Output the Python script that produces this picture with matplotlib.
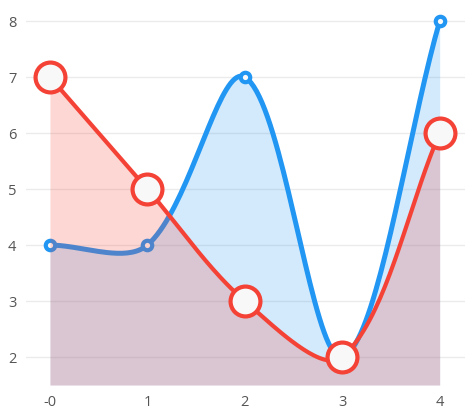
import numpy as np
import matplotlib
matplotlib.use("Agg")
import matplotlib.pyplot as plt

# ---------------- DATA ----------------
x_values = [0, 1, 2, 3, 4]
x_labels = ["-0", "1", "2", "3", "4"]
blue_values = [4, 4, 7, 2, 8]
red_values = [7, 5, 3, 2, 6]
y_ticks = [2, 3, 4, 5, 6, 7, 8]

BLUE = "#2196f3"
RED = "#f44336"

X_MIN, X_MAX = -0.246, 4.26
Y_MIN, Y_MAX = 1.5, 8.2
PX_X, PX_Y = 97.5, 56.0   # pixels per data unit, used for spline shape


# ---------------- SPLINE (chart.js style) ----------------
def spline(xs, ys, tension=0.33, steps=40):
    px = np.array(xs, float) * PX_X
    py = np.array(ys, float) * PX_Y
    n = len(px)
    ctrl_prev = []
    ctrl_next = []
    for i in range(n):
        prev_i = max(i - 1, 0)
        next_i = min(i + 1, n - 1)
        d01 = np.hypot(px[i] - px[prev_i], py[i] - py[prev_i])
        d12 = np.hypot(px[next_i] - px[i], py[next_i] - py[i])
        s01 = d01 / (d01 + d12)
        s12 = d12 / (d01 + d12)
        dx = px[next_i] - px[prev_i]
        dy = py[next_i] - py[prev_i]
        ctrl_prev.append((px[i] - tension * s01 * dx, py[i] - tension * s01 * dy))
        ctrl_next.append((px[i] + tension * s12 * dx, py[i] + tension * s12 * dy))
    out_x, out_y = [], []
    t = np.linspace(0, 1, steps)
    for i in range(n - 1):
        p0 = (px[i], py[i])
        p1 = ctrl_next[i]
        p2 = ctrl_prev[i + 1]
        p3 = (px[i + 1], py[i + 1])
        bx = ((1 - t) ** 3 * p0[0] + 3 * (1 - t) ** 2 * t * p1[0]
              + 3 * (1 - t) * t ** 2 * p2[0] + t ** 3 * p3[0])
        by = ((1 - t) ** 3 * p0[1] + 3 * (1 - t) ** 2 * t * p1[1]
              + 3 * (1 - t) * t ** 2 * p2[1] + t ** 3 * p3[1])
        out_x.extend(bx)
        out_y.extend(by)
    return np.array(out_x) / PX_X, np.array(out_y) / PX_Y


# ---------------- PLOT ----------------
fig = plt.figure(figsize=(4.7, 4.2), dpi=100)
ax = fig.add_axes([26 / 470, 35 / 420, 439 / 470, 375 / 420])

bx, by = spline(x_values, blue_values)
rx, ry = spline(x_values, red_values)

# blue series
ax.fill_between(bx, by, Y_MIN, color=BLUE, alpha=0.2, linewidth=0, zorder=2)
ax.plot(bx, by, color=BLUE, linewidth=3.6, solid_capstyle="round", zorder=3)
ax.plot(x_values, blue_values, linestyle="none", marker="o", markersize=6.8,
        markerfacecolor="#fafafa", markeredgecolor=BLUE, markeredgewidth=3,
        zorder=4)

# red series (drawn on top, its fill tints the blue line)
ax.fill_between(rx, ry, Y_MIN, color=RED, alpha=0.21, linewidth=0, zorder=5)
ax.plot(rx, ry, color=RED, linewidth=3.0, solid_capstyle="round", zorder=6)
ax.plot(x_values, red_values, linestyle="none", marker="o", markersize=21.5,
        markerfacecolor="#f8f8f8", markeredgecolor=RED, markeredgewidth=3,
        zorder=7)

ax.set_xlim(X_MIN, X_MAX)
ax.set_ylim(Y_MIN, Y_MAX)
ax.set_xticks(x_values)
ax.set_xticklabels(x_labels)
ax.set_yticks(y_ticks)

for side in ax.spines.values():
    side.set_visible(False)
ax.tick_params(length=0, labelsize=10.5, labelcolor="#555555", pad=7)
for lab in ax.get_xticklabels() + ax.get_yticklabels():
    lab.set_family("Open Sans")

ax.grid(axis="y", color="#ebebeb", linewidth=1, zorder=0)
ax.set_axisbelow(True)

fig.savefig("out.png", dpi=100)
